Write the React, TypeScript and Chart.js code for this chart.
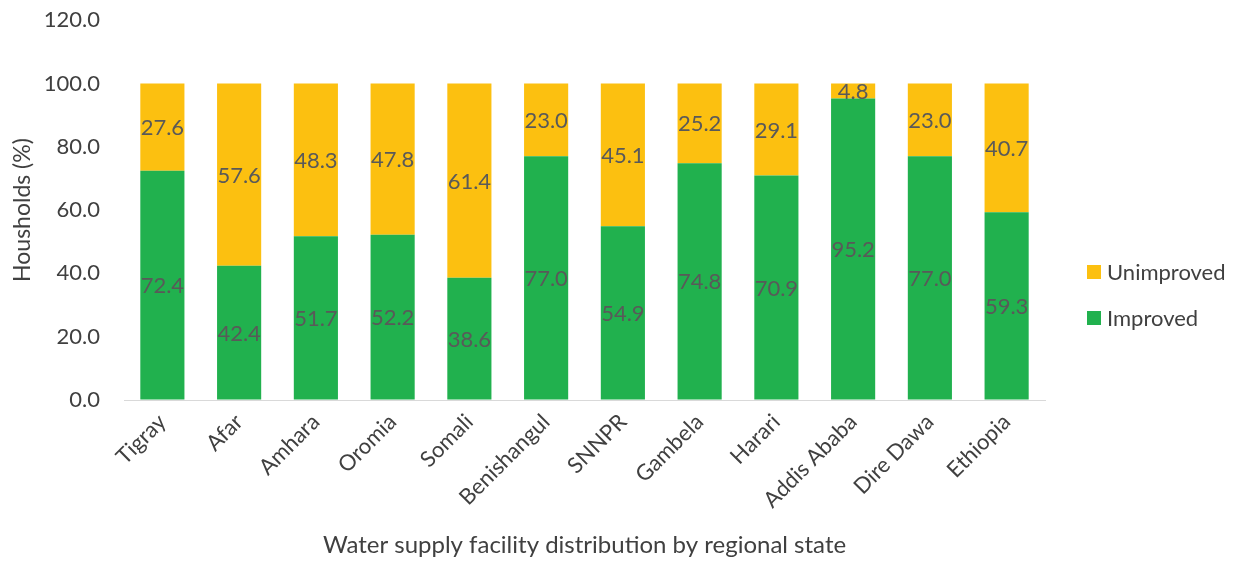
import React, { useEffect, useRef } from "react";
import { Chart, registerables } from "chart.js";

Chart.register(...registerables);

const categories = ["Tigray", "Afar", "Amhara", "Oromia", "Somali", "Benishangul", "SNNPR", "Gambela", "Harari", "Addis Ababa", "Dire Dawa", "Ethiopia"];
const improved = [72.4, 42.4, 51.7, 52.2, 38.6, 77.0, 54.9, 74.8, 70.9, 95.2, 77.0, 59.3];
const unimproved = [27.6, 57.6, 48.3, 47.8, 61.4, 23.0, 45.1, 25.2, 29.1, 4.8, 23.0, 40.7];
const seriesNames = ["Improved", "Unimproved"];
const yTicks = [0, 20, 40, 60, 80, 100, 120];

const GREEN = "#21B14E";
const GOLD = "#FCC010";
const FONT = "Lato";
const TEXT = "#404040";
const LABEL = "#595959";

const dataLabelPlugin = {
  id: "dataLabels",
  afterDatasetsDraw(chart: any) {
    const ctx = chart.ctx;
    ctx.save();
    ctx.font = `22px ${FONT}`;
    ctx.fillStyle = LABEL;
    ctx.textAlign = "center";
    ctx.textBaseline = "middle";
    chart.data.datasets.forEach((ds: any, di: number) => {
      const meta = chart.getDatasetMeta(di);
      meta.data.forEach((el: any, i: number) => {
        const v = ds.data[i];
        const y = (el.y + el.base) / 2;
        ctx.fillText(Number(v).toFixed(1), el.x, y + 1);
      });
    });
    ctx.restore();
  },
};

const legendPlugin = {
  id: "customLegend",
  afterDraw(chart: any) {
    const ctx = chart.ctx;
    const area = chart.chartArea;
    const x = area.right + 42;
    const items = [
      { label: seriesNames[1], color: GOLD, y: 264 },
      { label: seriesNames[0], color: GREEN, y: 310 },
    ];
    ctx.save();
    ctx.font = `22px ${FONT}`;
    ctx.textBaseline = "middle";
    ctx.textAlign = "left";
    items.forEach((it) => {
      ctx.fillStyle = it.color;
      ctx.fillRect(x, it.y - 7, 14, 14);
      ctx.fillStyle = TEXT;
      ctx.fillText(it.label, x + 20, it.y + 1);
    });
    ctx.restore();
  },
};

export default function App() {
  const ref = useRef<HTMLCanvasElement>(null);
  useEffect(() => {
    if (!ref.current) return;
    const chart = new Chart(ref.current, {
      type: "bar",
      data: {
        labels: categories,
        datasets: [
          { label: seriesNames[0], data: improved, backgroundColor: GREEN, borderWidth: 0, categoryPercentage: 1, barPercentage: 0.575 },
          { label: seriesNames[1], data: unimproved, backgroundColor: GOLD, borderWidth: 0, categoryPercentage: 1, barPercentage: 0.575 },
        ],
      },
      options: {
        animation: false,
        responsive: false,
        maintainAspectRatio: false,
        layout: { padding: { top: 0, right: 184, bottom: 0, left: 0 } },
        plugins: { legend: { display: false }, tooltip: { enabled: false }, title: { display: false } },
        scales: {
          x: {
            stacked: true,
            grid: { display: false },
            border: { display: true, color: "#D9D9D9", width: 1 },
            ticks: { color: TEXT, font: { family: FONT, size: 22 }, minRotation: 45, maxRotation: 45, padding: 1 },
            title: { display: true, text: "Water supply facility distribution by regional state", color: TEXT, font: { family: FONT, size: 24, lineHeight: 1 }, padding: { top: 4, bottom: 8 } },
            afterFit: (s: any) => { s.height = 165; },
          },
          y: {
            stacked: true,
            min: 0,
            max: 120,
            grid: { display: true, drawOnChartArea: false, drawTicks: true, tickLength: 24, color: "rgba(0,0,0,0)" },
            border: { display: false },
            afterBuildTicks: (s: any) => { s.ticks = yTicks.map((v) => ({ value: v })); },
            ticks: { color: TEXT, font: { family: FONT, size: 22, lineHeight: 1.1 }, padding: 0, callback: (v: any) => Number(v).toFixed(1) },
            title: { display: true, text: "Housholds (%)", color: TEXT, font: { family: FONT, size: 23, lineHeight: 1 }, padding: { top: 3, bottom: 0 } },
            afterFit: (s: any) => { s.width = 116; },
          },
        },
      },
      plugins: [dataLabelPlugin, legendPlugin],
    });
    return () => chart.destroy();
  }, []);
  return (
    <div style={{ width: 1221, height: 549 }}>
      <canvas ref={ref} width={1221} height={557} style={{ width: 1221, height: 557, display: "block" }} />
    </div>
  );
}
